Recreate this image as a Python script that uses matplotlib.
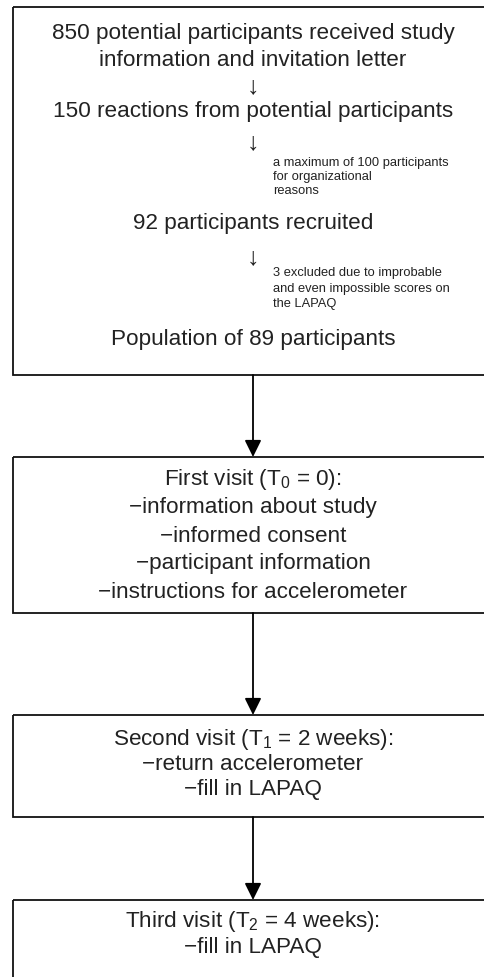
#!/usr/bin/env python3
# flow chart of participant recruitment and study visits

import matplotlib
matplotlib.use("Agg")
import matplotlib.pyplot as plt
from matplotlib.patches import Rectangle, FancyArrowPatch

plt.rcParams["font.family"] = ["Liberation Sans", "DejaVu Sans"]
plt.rcParams["mathtext.default"] = "regular"

# ------------------------------------------------------------------------------
# chart text

recruit_lines = [
    "850 potential participants received study",
    "information and invitation letter",
    "\u2193",
    "150 reactions from potential participants",
    "\u2193",
    "92 participants recruited",
    "\u2193",
    "Population of 89 participants",
]
recruit_y = [33, 60, 86, 112, 142, 224, 257, 340]

side_notes = [
    ["a maximum of 100 participants", "for organizational", "reasons"],
    ["3 excluded due to improbable", "and even impossible scores on", "the LAPAQ"],
]
side_y = [[163, 177, 191], [273, 289, 304]]

visit_titles = [
    "First visit (T$_0$ = 0):",
    "Second visit (T$_1$ = 2 weeks):",
    "Third visit (T$_2$ = 4 weeks):",
]
visit_items = [
    ["information about study", "informed consent",
     "participant information", "instructions for accelerometer"],
    ["return accelerometer", "fill in LAPAQ"],
    ["fill in LAPAQ"],
]

# box geometry (pixels, top and bottom)
box_top = [7, 457, 715, 900]
box_bottom = [375, 613, 817, 1000]
visit_first_y = [480, 739, 922]
visit_step = [28, 25.5, 25]

# ------------------------------------------------------------------------------

W, H = 485, 977
fig = plt.figure(figsize=(W / 100, H / 100), dpi=100)
ax = fig.add_axes([0, 0, 1, 1])
ax.set_xlim(0, W)
ax.set_ylim(H, 0)
ax.axis("off")

xc = 253
left, right = 13, 490
for top, bot in zip(box_top, box_bottom):
    ax.add_patch(Rectangle((left, top), right - left, bot - top,
                           fill=False, ec="#111111", lw=1.3))

# arrows between boxes
for i in range(len(box_top) - 1):
    ax.add_patch(FancyArrowPatch((xc, box_bottom[i]), (xc, box_top[i + 1]),
                                 arrowstyle="-|>,head_length=0.85,head_width=0.42",
                                 mutation_scale=12, color="black", lw=1.3,
                                 shrinkA=0, shrinkB=0))

# recruitment box text
for txt, y in zip(recruit_lines, recruit_y):
    size = 18 if txt == "\u2193" else 16.2
    ax.text(xc, y, txt, ha="center", va="center", fontsize=size, color="#222222")

for notes, ys in zip(side_notes, side_y):
    for txt, y in zip(notes, ys):
        ax.text(273, y, txt, ha="left", va="center", fontsize=9.3, color="#222222")

# visit boxes text
for title, items, y0, dy in zip(visit_titles, visit_items, visit_first_y, visit_step):
    ax.text(xc, y0, title, ha="center", va="center", fontsize=16.2, color="#222222")
    for k, item in enumerate(items):
        ax.text(xc, y0 + dy * (k + 1), "\u2212" + item, ha="center", va="center",
                fontsize=16.2, color="#222222")

fig.savefig("out.png", dpi=100)
